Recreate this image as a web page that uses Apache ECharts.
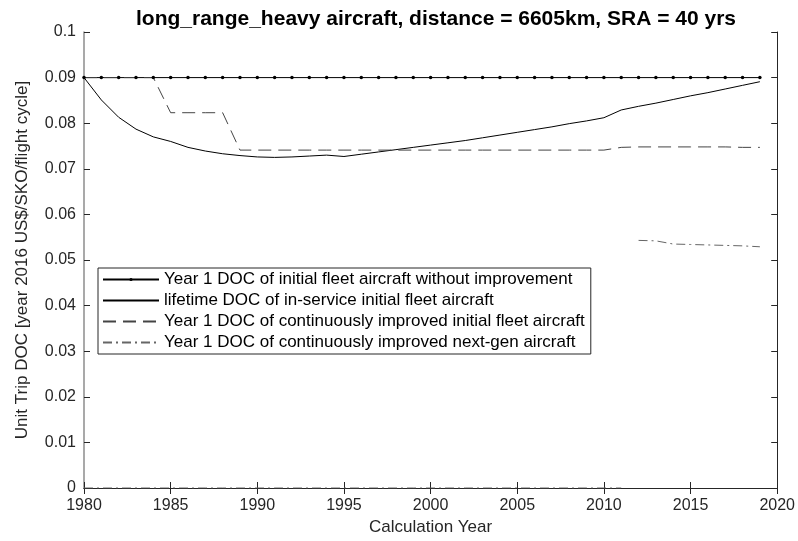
<!DOCTYPE html>
<html>
<head>
<meta charset="utf-8">
<script src="https://cdn.jsdelivr.net/npm/echarts@6/dist/echarts.min.js"></script>
<style>
  html, body { margin: 0; padding: 0; background: #fff; }
  #chart { width: 798px; height: 541px; }
</style>
</head>
<body>
<div id="chart"></div>
<script>
// Calculation years
const years = [
  1980, 1981, 1982, 1983, 1984, 1985, 1986, 1987, 1988, 1989,
  1990, 1991, 1992, 1993, 1994, 1995, 1996, 1997, 1998, 1999,
  2000, 2001, 2002, 2003, 2004, 2005, 2006, 2007, 2008, 2009,
  2010, 2011, 2012, 2013, 2014, 2015, 2016, 2017, 2018, 2019
];

// Year 1 DOC of initial fleet aircraft without improvement
const docBaseline = [
  0.09, 0.09, 0.09, 0.09, 0.09, 0.09, 0.09, 0.09, 0.09, 0.09,
  0.09, 0.09, 0.09, 0.09, 0.09, 0.09, 0.09, 0.09, 0.09, 0.09,
  0.09, 0.09, 0.09, 0.09, 0.09, 0.09, 0.09, 0.09, 0.09, 0.09,
  0.09, 0.09, 0.09, 0.09, 0.09, 0.09, 0.09, 0.09, 0.09, 0.09
];

// lifetime DOC of in-service initial fleet aircraft
const docLifetime = [
  0.0900, 0.0851, 0.0813, 0.0787, 0.0770, 0.0760, 0.0747, 0.0739, 0.0733, 0.0729,
  0.0726, 0.0725, 0.0726, 0.0728, 0.0730, 0.0727, 0.0732, 0.0737, 0.0742, 0.0747,
  0.0752, 0.0757, 0.0762, 0.0768, 0.0774, 0.0780, 0.0786, 0.0792, 0.0799, 0.0805,
  0.0812, 0.0829, 0.0837, 0.0844, 0.0852, 0.0860, 0.0867, 0.0875, 0.0883, 0.0891
];

// Year 1 DOC of continuously improved initial fleet aircraft
const docImproved = [
  0.0900, 0.0900, 0.0900, 0.0900, 0.0900, 0.0823, 0.0823, 0.0823, 0.0823, 0.0741,
  0.0741, 0.0741, 0.0741, 0.0741, 0.0741, 0.0741, 0.0741, 0.0741, 0.0741, 0.0741,
  0.0741, 0.0741, 0.0741, 0.0741, 0.0741, 0.0741, 0.0741, 0.0741, 0.0741, 0.0741,
  0.0741, 0.0747, 0.0748, 0.0748, 0.0748, 0.0748, 0.0748, 0.0748, 0.0747, 0.0747
];

// Next-gen aircraft: no aircraft before 2012 (zero), then year 1 DOC from 2012
const nextGenZeroYears = [
  1980, 1981, 1982, 1983, 1984, 1985, 1986, 1987, 1988, 1989,
  1990, 1991, 1992, 1993, 1994, 1995, 1996, 1997, 1998, 1999,
  2000, 2001, 2002, 2003, 2004, 2005, 2006, 2007, 2008, 2009,
  2010, 2011
];
const nextGenZeroValues = [
  0, 0, 0, 0, 0, 0, 0, 0, 0, 0,
  0, 0, 0, 0, 0, 0, 0, 0, 0, 0,
  0, 0, 0, 0, 0, 0, 0, 0, 0, 0,
  0, 0
];
const nextGenYears = [2012, 2013, 2014, 2015, 2016, 2017, 2018, 2019];
const docNextGen = [0.0543, 0.0542, 0.0535, 0.0534, 0.0533, 0.0532, 0.0531, 0.0529];

const seriesNames = [
  'Year 1 DOC of initial fleet aircraft without improvement',
  'lifetime DOC of in-service initial fleet aircraft',
  'Year 1 DOC of continuously improved initial fleet aircraft',
  'Year 1 DOC of continuously improved next-gen aircraft'
];

const zip = (xs, ys) => xs.map((x, i) => [x, ys[i]]);

const FONT = '"Liberation Sans", Arial, Helvetica, sans-serif';
const AXIS = '#262626';
const DASH = [13, 7];
const DASHDOT = [9, 4, 2, 4];

const chart = echarts.init(document.getElementById('chart'), null, { renderer: 'canvas' });

const tickStyle = { show: true, inside: true, length: 6, lineStyle: { color: AXIS, width: 1 } };
const boxAxisCommon = {
  axisLine: { show: true, lineStyle: { color: AXIS, width: 1 } },
  axisTick: tickStyle,
  splitLine: { show: false }
};

// legend entries: only the first one carries a marker dot
const legendData = seriesNames.map((name, i) => (
  i === 0 ? { name } : { name, itemStyle: { color: 'rgba(0,0,0,0)', borderWidth: 0 } }
));

chart.setOption({
  animation: false,
  backgroundColor: '#fff',
  title: {
    text: 'long_range_heavy aircraft, distance = 6605km, SRA = 40 yrs',
    left: 431,
    textAlign: 'center',
    top: 4,
    textStyle: { fontFamily: FONT, fontSize: 21, fontWeight: 'bold', color: '#000' }
  },
  grid: { left: 84, right: 20, top: 32, bottom: 46, containLabel: false },
  legend: {
    orient: 'vertical',
    left: 98,
    top: 268,
    itemWidth: 56,
    itemHeight: 4,
    itemGap: 4,
    padding: [3, 6, 3, 4],
    borderColor: AXIS,
    borderWidth: 1,
    borderRadius: 0,
    backgroundColor: '#fff',
    textStyle: { fontFamily: FONT, fontSize: 17, color: '#000' },
    data: legendData
  },
  xAxis: [
    Object.assign({
      type: 'value', min: 1980, max: 2020, interval: 5, position: 'bottom',
      name: 'Calculation Year', nameLocation: 'middle', nameGap: 31,
      nameTextStyle: { fontFamily: FONT, fontSize: 17, color: AXIS },
      axisLabel: { fontFamily: FONT, fontSize: 16, color: AXIS, margin: 10,
        formatter: v => String(v) }
    }, boxAxisCommon),
    Object.assign({
      type: 'value', min: 1980, max: 2020, interval: 5, position: 'top',
      axisLabel: { show: false }
    }, boxAxisCommon)
  ],
  yAxis: [
    Object.assign({
      type: 'value', min: 0, max: 0.1, interval: 0.01, position: 'left',
      name: 'Unit Trip DOC [year 2016 US$/SKO/flight cycle]',
      nameLocation: 'middle', nameGap: 53, nameRotate: 90,
      nameTextStyle: { fontFamily: FONT, fontSize: 17, color: AXIS },
      axisLabel: { fontFamily: FONT, fontSize: 16, color: AXIS, margin: 8,
        formatter: v => String(+v.toFixed(2)) }
    }, boxAxisCommon, {
      axisLine: { show: true, lineStyle: { color: '#8c8c8c', width: 1.5 } }
    }),
    Object.assign({
      type: 'value', min: 0, max: 0.1, interval: 0.01, position: 'right',
      axisLabel: { show: false }
    }, boxAxisCommon)
  ],
  series: [
    {
      name: seriesNames[0], type: 'line', data: zip(years, docBaseline),
      symbol: 'circle', symbolSize: 3.5, showSymbol: true,
      itemStyle: { color: '#000' },
      lineStyle: { color: '#000', width: 1 }
    },
    {
      name: seriesNames[1], type: 'line', data: zip(years, docLifetime),
      symbol: 'none', itemStyle: { color: '#000' },
      lineStyle: { color: '#000', width: 1 }
    },
    {
      name: seriesNames[2], type: 'line', data: zip(years, docImproved),
      symbol: 'none', itemStyle: { color: '#444' },
      lineStyle: { color: '#444', width: 1, type: DASH }
    },
    {
      name: seriesNames[3], type: 'line', data: zip(nextGenZeroYears, nextGenZeroValues),
      symbol: 'none', itemStyle: { color: '#666' },
      lineStyle: { color: '#666', width: 1, type: DASHDOT }
    },
    {
      name: seriesNames[3], type: 'line', data: zip(nextGenYears, docNextGen),
      symbol: 'none', itemStyle: { color: '#666' },
      lineStyle: { color: '#666', width: 1, type: DASHDOT }
    }
  ]
});
</script>
</body>
</html>
